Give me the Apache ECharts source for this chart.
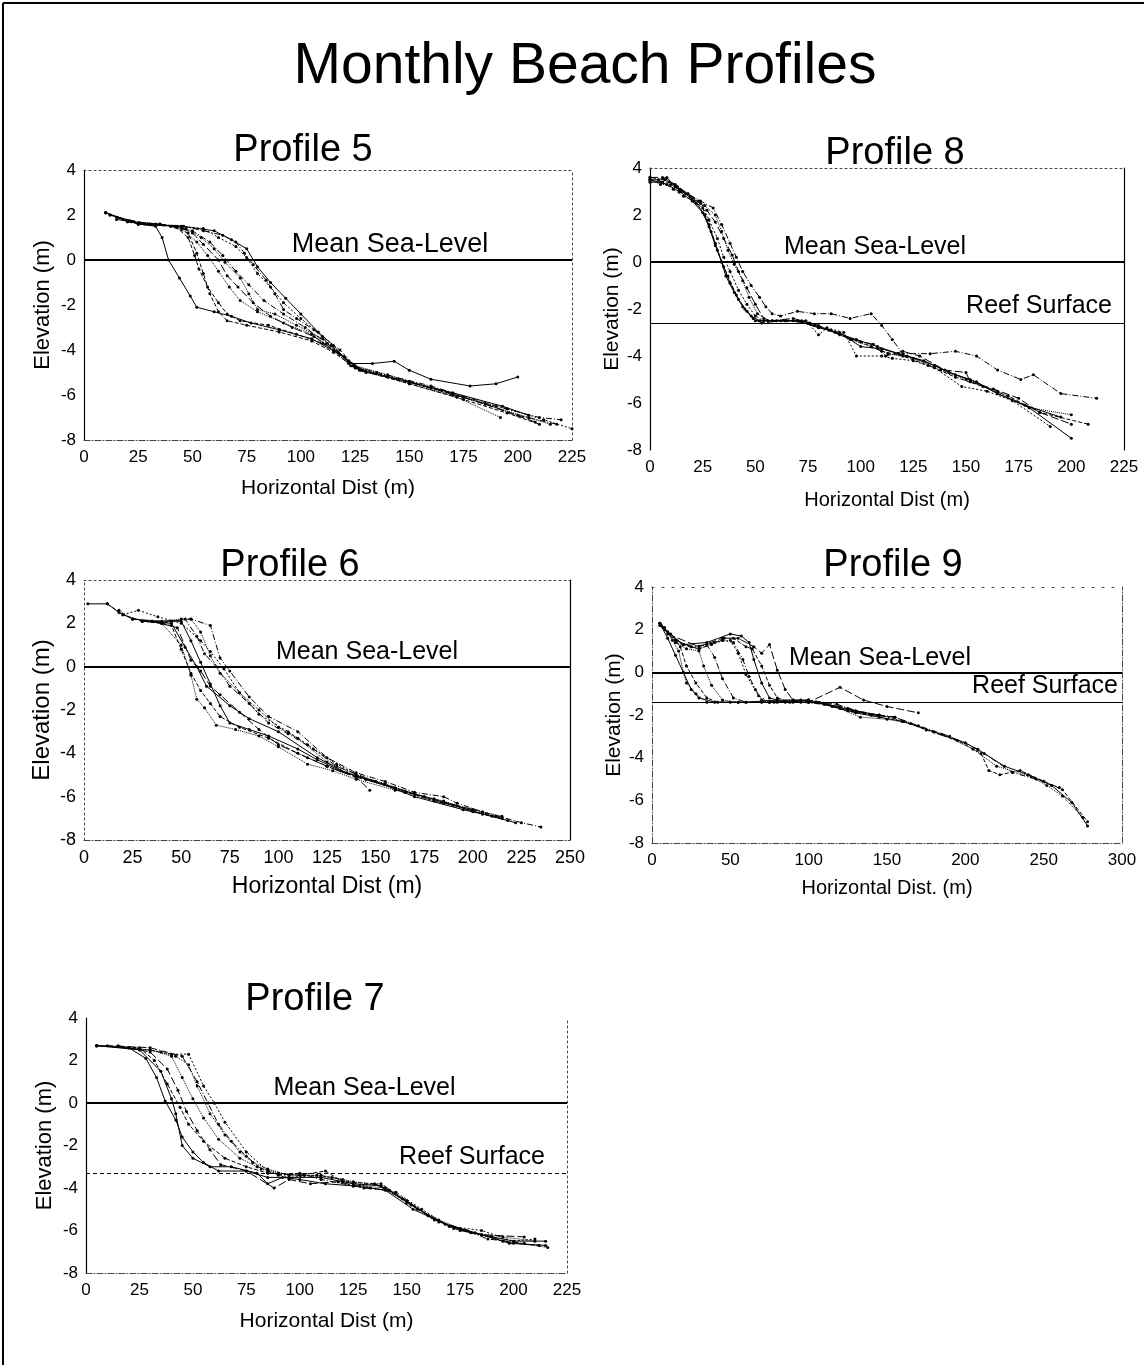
<!DOCTYPE html>
<html>
<head>
<meta charset="utf-8">
<title>Monthly Beach Profiles</title>
<script src="https://cdn.jsdelivr.net/npm/echarts@6/dist/echarts.min.js"></script>
<style>
  html, body { margin: 0; padding: 0; background: #fff; }
  #main { width: 1144px; height: 1365px; }
</style>
</head>
<body>
<div id="main"></div>
<script>
  // ---- data: horizontal distance (m), elevation (m) ----
  var p5Lines = [
    [[10,2.1],[18,1.8],[25,1.6],[33,1.5],[36,1.0],[39,0.0],[44,-0.8],[49,-1.6],[52,-2.1],[60,-2.3],[68,-2.5],[77,-2.8],[90,-3.1],[105,-3.5],[118,-4.2],[128,-4.9],[145,-5.3],[170,-5.9],[193,-6.5],[205,-6.9]],
    [[10,2.1],[20,1.7],[30,1.6],[42,1.5],[48,1.0],[51,0.2],[53,-0.4],[57,-1.2],[62,-1.9],[66,-2.4],[72,-2.7],[85,-2.9],[98,-3.3],[110,-3.7],[120,-4.3],[127,-4.9],[150,-5.5],[175,-6.2],[195,-6.8],[210,-7.3]],
    [[12,2.0],[22,1.7],[35,1.6],[45,1.4],[52,0.8],[57,0.2],[62,-0.5],[67,-1.2],[72,-1.8],[80,-2.3],[92,-2.8],[105,-3.3],[117,-4.1],[125,-4.7],[140,-5.1],[160,-5.7],[185,-6.4],[205,-7.0],[215,-7.3]],
    [[10,2.1],[25,1.6],[40,1.5],[50,1.3],[58,0.8],[64,0.2],[70,-0.5],[76,-1.1],[83,-1.8],[92,-2.4],[102,-3.0],[112,-3.7],[122,-4.5],[130,-5.0],[150,-5.4],[175,-6.1],[200,-6.9],[218,-7.3]],
    [[12,2.0],[28,1.6],[45,1.5],[55,1.4],[62,1.0],[70,0.6],[75,0.1],[80,-0.6],[86,-1.2],[92,-1.9],[100,-2.6],[110,-3.4],[118,-4.0],[126,-4.8],[145,-5.3],[170,-6.0],[195,-6.6],[212,-7.1],[225,-7.5]],
    [[10,2.1],[25,1.6],[45,1.5],[60,1.3],[68,0.9],[75,0.5],[80,-0.3],[86,-1.0],[93,-1.7],[100,-2.4],[108,-3.2],[115,-3.8],[122,-4.6],[133,-4.6],[143,-4.5],[150,-4.9],[160,-5.3],[178,-5.6],[190,-5.5],[200,-5.2]],
    [[15,1.9],[30,1.6],[43,1.5],[50,1.2],[55,0.7],[62,0.0],[66,-0.7],[71,-1.2],[78,-1.9],[86,-2.5],[96,-3.0],[106,-3.4],[115,-4.0],[123,-4.7],[140,-5.2],[165,-5.8],[185,-6.4],[208,-7.2]],
    [[20,1.7],[35,1.6],[47,1.4],[54,1.0],[60,0.5],[65,-0.1],[72,-0.8],[76,-1.5],[80,-2.2],[88,-2.4],[98,-2.9],[110,-3.5],[120,-4.3],[128,-4.9],[150,-5.5],[172,-6.1],[192,-7.0]],
    [[15,1.8],[33,1.6],[46,1.5],[55,1.3],[64,1.1],[70,0.8],[74,0.3],[78,-0.2],[84,-0.9],[88,-1.5],[92,-2.2],[98,-2.6],[106,-3.1],[114,-3.8],[124,-4.7],[135,-5.0],[160,-5.6],[190,-6.5],[210,-7.0],[220,-7.1]],
    [[25,1.6],[40,1.5],[48,1.2],[52,0.3],[55,-0.6],[58,-1.5],[62,-2.3],[66,-2.7],[75,-2.9],[90,-3.2],[105,-3.6],[115,-4.1],[125,-4.8]]
  ];
  var p8Lines = [
    [[0,3.5],[4,3.5],[8,3.6],[12,3.2],[17,2.9],[22,2.5],[26,2.0],[29,1.3],[32,0.5],[35,-0.2],[38,-0.9],[42,-1.6],[46,-2.1],[50,-2.5],[58,-2.5],[68,-2.5],[78,-2.7],[88,-3.0],[98,-3.3],[108,-3.6],[118,-3.9],[130,-4.2],[142,-4.7],[152,-5.0],[165,-5.6],[180,-6.2],[200,-7.5]],
    [[0,3.4],[6,3.4],[11,3.1],[16,2.8],[21,2.6],[25,2.3],[28,1.6],[31,0.8],[34,0.0],[37,-0.6],[41,-1.4],[45,-2.0],[49,-2.4],[53,-2.6],[62,-2.5],[72,-2.5],[80,-2.7],[90,-3.1],[100,-3.4],[110,-3.8],[120,-4.0],[132,-4.4],[145,-4.9],[158,-5.3],[170,-5.7],[185,-6.4],[208,-6.9]],
    [[0,3.5],[5,3.3],[10,3.3],[15,3.0],[20,2.7],[26,2.4],[31,2.0],[34,1.3],[37,0.5],[40,-0.1],[44,-0.8],[47,-1.5],[51,-2.2],[56,-2.5],[65,-2.5],[75,-2.6],[85,-2.9],[95,-3.3],[105,-3.6],[113,-3.9],[125,-4.1],[138,-4.6],[150,-5.0],[165,-5.5],[180,-6.2],[200,-6.5]],
    [[0,3.6],[7,3.5],[13,3.2],[18,2.9],[24,2.6],[30,2.3],[34,1.6],[38,0.8],[41,0.2],[44,-0.4],[48,-1.0],[52,-1.5],[55,-1.9],[58,-2.2],[62,-2.3],[70,-2.1],[78,-2.2],[86,-2.2],[95,-2.4],[105,-2.2],[110,-2.7],[115,-3.3],[120,-3.9],[133,-3.9],[145,-3.8],[155,-4.0],[165,-4.6],[176,-5.0],[182,-4.8],[195,-5.6],[212,-5.8]],
    [[0,3.4],[5,3.4],[9,3.4],[14,3.1],[19,2.8],[24,2.5],[28,1.8],[32,1.0],[35,0.2],[38,-0.4],[42,-1.2],[46,-1.8],[50,-2.3],[54,-2.5],[64,-2.5],[74,-2.5],[80,-3.1],[84,-2.8],[92,-3.0],[98,-4.0],[110,-4.0],[115,-4.1],[125,-4.2],[135,-4.5],[148,-5.3],[160,-5.5],[172,-5.9],[190,-7.0]],
    [[0,3.5],[8,3.3],[14,3.0],[20,2.6],[25,2.1],[28,1.5],[31,0.7],[34,0.0],[36,-0.6],[40,-1.3],[44,-1.9],[48,-2.3],[52,-2.5],[60,-2.5],[70,-2.5],[80,-2.8],[90,-3.0],[100,-3.6],[110,-3.7],[122,-4.0],[135,-4.4],[145,-4.8],[155,-5.1],[165,-5.6],[178,-6.1],[195,-6.6]],
    [[0,3.6],[6,3.6],[12,3.3],[18,2.9],[23,2.6],[27,2.2],[31,1.7],[35,1.0],[39,0.3],[42,-0.4],[46,-1.1],[50,-1.8],[54,-2.4],[58,-2.5],[68,-2.4],[76,-2.6],[86,-2.9],[96,-3.3],[106,-3.5],[112,-4.0],[120,-3.8],[128,-4.0],[140,-4.6],[150,-4.7],[152,-5.1],[163,-5.4],[175,-5.8],[185,-6.4],[200,-6.9]]
  ];
  var p6Lines = [
    [[2,2.9],[12,2.9],[18,2.5],[25,2.2],[35,2.1],[45,2.1],[50,2.1],[55,1.2],[60,0.2],[65,-0.8],[70,-1.8],[75,-2.6],[85,-2.9],[95,-3.2],[110,-3.8],[120,-4.3],[132,-4.8],[145,-5.2],[160,-5.6],[175,-6.0],[190,-6.4],[205,-6.8],[222,-7.2]],
    [[12,2.9],[20,2.4],[30,2.1],[40,2.0],[45,1.9],[50,0.8],[55,-0.3],[60,-1.1],[65,-1.7],[70,-2.3],[80,-2.8],[95,-3.3],[110,-4.0],[125,-4.6],[140,-5.1],[160,-5.6],[180,-6.2],[200,-6.6],[215,-7.0]],
    [[18,2.6],[25,2.2],[40,2.1],[50,2.2],[55,2.2],[60,1.6],[65,0.5],[70,-0.3],[80,-1.2],[90,-2.0],[100,-2.8],[110,-3.3],[125,-4.4],[140,-5.0],[155,-5.4],[170,-5.9],[185,-6.2],[200,-6.7],[212,-6.9]],
    [[25,2.2],[35,2.1],[45,2.1],[55,2.2],[65,1.9],[70,0.4],[75,-0.2],[85,-1.4],[95,-2.3],[110,-3.0],[125,-4.2],[140,-4.9],[155,-5.3],[170,-5.8],[185,-6.0],[192,-6.3],[205,-6.7],[225,-7.2],[235,-7.4]],
    [[20,2.4],[28,2.6],[38,2.3],[50,2.0],[60,1.2],[65,0.7],[72,-0.1],[80,-1.2],[90,-2.2],[105,-3.0],[115,-3.6],[130,-4.5],[145,-5.2],[165,-5.8],[185,-6.3],[205,-6.8],[218,-7.1]],
    [[30,2.1],[45,2.0],[52,0.9],[58,0.0],[63,-0.9],[75,-1.8],[85,-2.4],[100,-3.0],[120,-4.2],[135,-4.9],[150,-5.3],[170,-6.0],[195,-6.6],[210,-6.9]],
    [[35,2.1],[48,1.8],[55,0.3],[60,-0.2],[65,-0.9],[70,-1.3],[80,-2.1],[90,-2.9],[100,-3.6],[115,-4.2],[125,-4.6],[140,-5.1],[147,-5.7]],
    [[30,2.1],[40,2.0],[50,1.0],[55,-0.4],[58,-1.5],[62,-1.9],[68,-2.7],[78,-2.9],[90,-3.2],[100,-3.7],[115,-4.5],[128,-4.8],[140,-5.2],[160,-5.7],[180,-6.1],[200,-6.6],[215,-6.9]],
    [[40,2.0],[52,2.2],[58,1.4],[62,0.6],[68,0.0],[75,-0.9],[85,-1.7],[95,-2.6],[105,-3.1],[118,-3.8],[130,-4.6],[150,-5.3],[175,-6.0],[200,-6.6]]
  ];
  var p9Lines = [
    [[5,2.3],[10,1.6],[15,0.8],[20,0.0],[25,-0.8],[30,-1.2],[40,-1.4],[60,-1.4],[80,-1.3],[100,-1.3],[115,-1.6],[130,-1.9],[145,-2.1],[160,-2.3],[180,-2.8],[200,-3.3],[212,-3.8],[225,-4.4],[240,-4.8],[255,-5.3],[268,-6.1],[278,-7.2]],
    [[5,2.2],[12,1.8],[18,1.2],[22,0.3],[28,-0.5],[35,-1.2],[42,-1.4],[55,-1.4],[75,-1.4],[95,-1.3],[110,-1.5],[125,-1.8],[140,-2.0],[155,-2.1],[175,-2.7],[195,-3.2],[210,-3.8],[215,-4.6],[222,-4.8],[235,-4.6],[250,-5.1],[262,-5.5],[278,-7.0]],
    [[5,2.3],[15,1.4],[22,1.1],[30,1.0],[33,0.3],[38,-0.6],[45,-1.3],[55,-1.4],[70,-1.4],[90,-1.3],[105,-1.4],[120,-1.7],[133,-2.1],[150,-2.2],[165,-2.4],[185,-2.9],[205,-3.6],[220,-4.4],[242,-4.9],[252,-5.3],[262,-5.8],[275,-6.8]],
    [[5,2.3],[15,1.5],[25,1.2],[35,1.3],[40,0.7],[45,-0.3],[52,-1.2],[60,-1.4],[80,-1.4],[100,-1.3],[118,-1.5],[135,-1.9],[155,-2.1],[170,-2.5],[190,-3.0],[208,-3.6],[230,-4.7],[245,-5.0],[260,-5.4]],
    [[7,2.1],[15,1.4],[30,1.1],[40,1.4],[50,1.5],[55,0.9],[60,-0.1],[68,-1.1],[75,-1.4],[90,-1.4],[105,-1.4],[120,-1.6],[130,-1.8],[145,-2.0],[160,-2.3]],
    [[8,2.0],[20,1.3],[35,1.4],[50,1.8],[57,1.7],[62,1.4],[65,0.6],[70,-0.5],[75,-1.2],[85,-1.4],[100,-1.4],[112,-1.5],[128,-1.8],[145,-2.0]],
    [[10,1.8],[30,1.2],[45,1.6],[55,1.6],[65,1.2],[70,0.9],[75,1.3],[80,0.1],[85,-0.8],[90,-1.3],[100,-1.4],[120,-0.7],[135,-1.3],[150,-1.6],[170,-1.9]],
    [[8,2.1],[13,1.5],[17,1.0],[20,0.0],[22,-0.5],[28,-1.0],[35,-1.4],[50,-1.4]],
    [[6,2.2],[15,1.5],[25,1.2],[35,1.3],[45,1.5],[52,1.4],[58,0.6],[62,-0.2],[66,-0.8],[70,-1.3],[78,-1.4],[95,-1.4],[110,-1.5],[125,-1.7],[140,-2.0],[155,-2.1]],
    [[10,1.9],[20,1.3],[30,1.1],[38,1.3],[46,1.6],[52,1.6],[60,1.2],[64,1.1],[70,0.3],[75,-0.6],[80,-1.2],[88,-1.4],[100,-1.3]]
  ];
  var p7Lines = [
    [[5,2.7],[20,2.6],[28,2.1],[33,1.2],[37,0.1],[42,-0.8],[45,-1.6],[50,-2.3],[55,-2.8],[62,-3.2],[75,-3.2],[85,-3.5],[95,-3.5],[110,-3.5],[125,-3.8],[138,-3.9],[150,-4.6],[162,-5.4],[175,-6.0],[190,-6.3],[200,-6.5],[215,-6.5]],
    [[5,2.7],[25,2.6],[32,2.0],[38,0.9],[44,-0.2],[48,-1.0],[55,-1.8],[65,-2.6],[75,-3.0],[85,-3.3],[100,-3.4],[112,-3.2],[120,-3.7],[135,-3.8],[148,-4.5],[160,-5.3],[172,-5.9],[185,-6.2],[200,-6.6],[212,-6.7]],
    [[5,2.7],[30,2.5],[40,2.2],[45,1.2],[50,0.2],[55,-0.7],[62,-1.7],[72,-2.6],[80,-3.0],[90,-3.3],[102,-3.4],[115,-3.5],[128,-3.9],[140,-4.0],[152,-4.8],[165,-5.6],[178,-6.0],[195,-6.5],[216,-6.8]],
    [[10,2.7],[30,2.6],[45,2.2],[52,1.0],[57,0.0],[62,-1.0],[68,-1.8],[75,-2.5],[82,-3.1],[90,-3.4],[100,-3.3],[110,-3.6],[125,-3.9],[138,-3.8],[150,-4.6],[163,-5.5],[175,-5.9],[188,-6.4],[205,-6.6]],
    [[5,2.7],[30,2.5],[40,2.3],[48,2.3],[55,0.8],[60,0.0],[65,-0.9],[75,-2.3],[85,-3.2],[95,-3.5],[108,-3.4],[120,-3.6],[133,-4.0],[145,-4.2],[157,-5.0],[170,-5.8],[185,-6.0],[200,-6.5],[210,-6.4]],
    [[5,2.7],[25,2.5],[35,1.5],[40,0.2],[42,-0.5],[45,-2.0],[50,-2.6],[58,-3.0],[68,-3.0],[80,-3.3],[85,-3.8],[92,-3.5],[100,-3.6],[112,-3.8],[125,-3.9],[140,-4.1],[153,-5.0],[168,-5.7],[182,-6.1],[198,-6.6],[215,-6.7]],
    [[15,2.7],[30,2.4],[38,1.6],[43,0.6],[47,-0.4],[52,-1.3],[58,-2.2],[63,-2.9],[75,-3.2],[88,-4.0],[95,-3.6],[105,-3.8],[118,-3.7],[130,-4.0],[142,-4.1],[155,-5.0],[170,-5.8],[185,-6.2],[205,-6.3]],
    [[20,2.6],[35,2.4],[42,2.2],[48,1.8],[52,0.8],[58,-0.5],[65,-1.5],[72,-2.3],[78,-2.8],[85,-3.1],[95,-3.4],[110,-3.4],[125,-3.7],[138,-3.9],[150,-4.7],[165,-5.5],[180,-6.1],[195,-6.3],[210,-6.5]]
  ];

  var panelNames = ['Profile 5', 'Profile 8', 'Profile 6', 'Profile 9', 'Profile 7'];
  var xMax = [225, 225, 250, 300, 225];
  var xStep = [25, 25, 25, 50, 25];
  var xNames = ['Horizontal Dist (m)', 'Horizontal Dist (m)', 'Horizontal Dist (m)', 'Horizontal Dist. (m)', 'Horizontal Dist (m)'];
  var seaLevel = 0;
  var reefLevel = [null, -2.6, null, -1.4, -3.3];
  var lineSets = [p5Lines, p8Lines, p6Lines, p9Lines, p7Lines];

  // ---- layout (pixels) and frame styles ----
  var FONT = '"Liberation Sans", Arial, Helvetica, sans-serif';
  var DOT = [2, 3], DASHDOT = [6, 2, 1, 2];
  var boxes = [
    { left: 84, top: 170, width: 488, height: 270, tx: 298, ty: 127, ng: 38, yg: 30, tick: 17, nm: 21, msl: 62, mslSize: 27, reefDx: 0,
      fl: 'solid', fb: DASHDOT, ft: DOT, fr: DOT },
    { left: 650, top: 168, width: 474, height: 282, tx: 890, ty: 130, ng: 40, yg: 22, tick: 17, nm: 20, msl: -12, mslSize: 25, reefDx: -8,
      fl: 'solid', fb: null, ft: DOT, fr: 'solid' },
    { left: 84, top: 580, width: 486, height: 260, tx: 285, ty: 542, ng: 35, yg: 30, tick: 18, nm: 23, msl: 40, mslSize: 25, reefDx: 0,
      fl: DOT, fb: DASHDOT, ft: DOT, fr: 'solid' },
    { left: 652, top: 587, width: 470, height: 256, tx: 888, ty: 542, ng: 35, yg: 26, tick: 17, nm: 20, msl: -7, mslSize: 25, reefDx: 0,
      fl: DASHDOT, fb: DASHDOT, ft: [2, 8], fr: DASHDOT },
    { left: 86, top: 1018, width: 481, height: 255, tx: 310, ty: 976, ng: 38, yg: 30, tick: 17, nm: 21, msl: 38, mslSize: 25, reefDx: -18,
      fl: 'solid', fb: DASHDOT, ft: null, fr: DOT }
  ];
  var dashes = ['solid', 'dashed', 'dotted', DASHDOT, [2, 2], 'solid', [8, 3], 'dotted', DASHDOT, 'dashed'];

  var grids = [], xAxes = [], yAxes = [], series = [];
  var titles = [{
    text: 'Monthly Beach Profiles', left: 580, top: 34, textAlign: 'center',
    textStyle: { fontFamily: FONT, fontSize: 57, fontWeight: 'normal', color: '#000' }
  }];

  function frameLine(type, dark) {
    if (!type) return { show: false };
    return { show: true, onZero: false, lineStyle: { color: dark ? '#000' : '#444', width: dark ? 1.2 : 1, type: type } };
  }

  boxes.forEach(function (b, i) {
    grids.push({ left: b.left, top: b.top, width: b.width, height: b.height, containLabel: false });
    titles.push({
      text: panelNames[i], left: b.tx, top: b.ty, textAlign: 'center',
      textStyle: { fontFamily: FONT, fontSize: 38, fontWeight: 'normal', color: '#000' }
    });
    // bottom axis with labels
    xAxes.push({
      type: 'value', gridIndex: i, min: 0, max: xMax[i], interval: xStep[i],
      name: xNames[i], nameLocation: 'middle', nameGap: b.ng,
      nameTextStyle: { fontFamily: FONT, fontSize: b.nm, color: '#000' },
      axisLine: frameLine(b.fb, false),
      axisTick: { show: false },
      splitLine: { show: false },
      axisLabel: { fontFamily: FONT, fontSize: b.tick, color: '#000', margin: 9 }
    });
    // top frame line
    xAxes.push({
      type: 'value', gridIndex: i, position: 'top', min: 0, max: xMax[i],
      axisLine: frameLine(b.ft, false),
      axisTick: { show: false }, axisLabel: { show: false }, splitLine: { show: false }
    });
    yAxes.push({
      type: 'value', gridIndex: i, min: -8, max: 4, interval: 2,
      name: 'Elevation (m)', nameLocation: 'middle', nameGap: b.yg,
      nameTextStyle: { fontFamily: FONT, fontSize: b.nm + 1, color: '#000' },
      axisLine: frameLine(b.fl, b.fl === 'solid'),
      axisTick: { show: false },
      splitLine: { show: false },
      axisLabel: { fontFamily: FONT, fontSize: b.tick, color: '#000', margin: 8 }
    });
    // right frame line
    yAxes.push({
      type: 'value', gridIndex: i, position: 'right', min: -8, max: 4,
      axisLine: frameLine(b.fr, b.fr === 'solid'),
      axisTick: { show: false }, axisLabel: { show: false }, splitLine: { show: false }
    });

    var marks = [{
      yAxis: seaLevel,
      lineStyle: { color: '#000', width: 2.2, type: 'solid' },
      label: {
        show: true, formatter: 'Mean Sea-Level', position: 'insideMiddleTop', distance: 2,
        offset: [b.msl, 0], fontFamily: FONT, fontSize: b.mslSize, color: '#000'
      }
    }];
    if (reefLevel[i] !== null) {
      marks.push({
        yAxis: reefLevel[i],
        lineStyle: { color: '#000', width: 1, type: i === 4 ? [4, 3] : 'solid' },
        label: {
          show: true, formatter: 'Reef Surface', position: 'insideEndTop', distance: 4,
          offset: [b.reefDx, 0], fontFamily: FONT, fontSize: 25, color: '#000'
        }
      });
    }

    lineSets[i].forEach(function (pts, k) {
      var s = {
        type: 'line', xAxisIndex: 2 * i, yAxisIndex: 2 * i, data: pts,
        symbol: 'circle', symbolSize: 3, showSymbol: true,
        lineStyle: { color: '#000', width: 1, type: dashes[k % dashes.length] },
        itemStyle: { color: '#000' },
        animation: false, silent: true
      };
      if (k === 0) {
        s.markLine = { silent: true, symbol: 'none', animation: false, data: marks };
      }
      series.push(s);
    });
  });

  var myChart = echarts.init(document.getElementById('main'));
  var option = {
    backgroundColor: '#fff',
    animation: false,
    title: titles,
    grid: grids,
    xAxis: xAxes,
    yAxis: yAxes,
    series: series,
    graphic: [
      { type: 'line', shape: { x1: 3, y1: 3, x2: 1144, y2: 3 }, style: { stroke: '#000', lineWidth: 2 } },
      { type: 'line', shape: { x1: 3, y1: 3, x2: 3, y2: 1365 }, style: { stroke: '#000', lineWidth: 2 } }
    ]
  };
  myChart.setOption(option);
  window.onresize = function () {
    myChart.resize();
  };
</script>
</body>
</html>
